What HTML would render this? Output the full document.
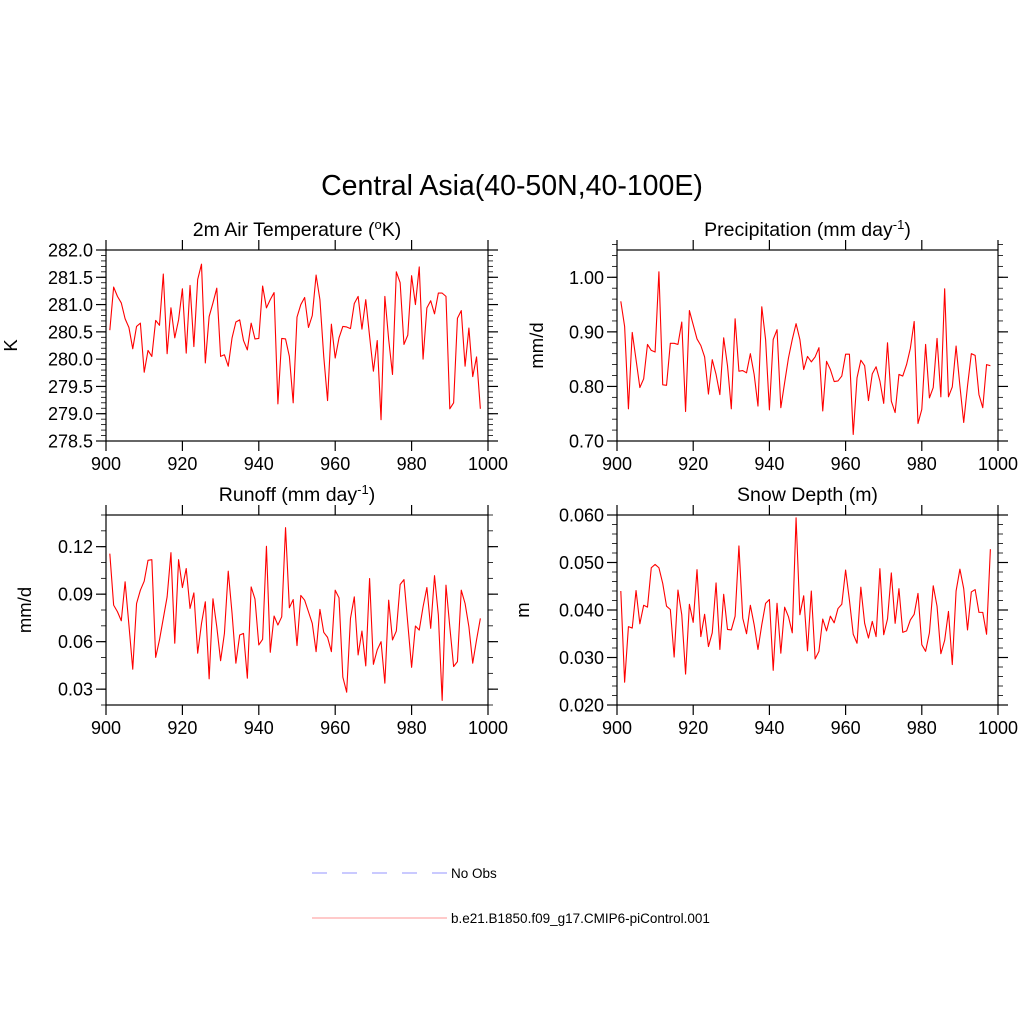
<!DOCTYPE html>
<html><head><meta charset="utf-8"><style>
html,body{margin:0;padding:0;background:#fff;}
svg{display:block;font-family:"Liberation Sans",sans-serif;}
</style></head><body>
<svg id="fig" width="1024" height="1024" viewBox="0 0 1024 1024">
<rect width="1024" height="1024" fill="#fff"/>
<text x="512" y="195" font-size="28.5" text-anchor="middle">Central Asia(40-50N,40-100E)</text>
<g>
<line x1="312" y1="873" x2="447" y2="873" stroke="#aaaaff" stroke-width="1.2" stroke-dasharray="15,15"/>
<text x="451" y="878" font-size="13.5">No Obs</text>
<line x1="312" y1="918" x2="447" y2="918" stroke="#ffaaaa" stroke-width="1.2"/>
<text x="451" y="923" font-size="13.5">b.e21.B1850.f09_g17.CMIP6-piControl.001</text>
</g>
</svg>
<script>
const years = Array.from({length:98},(_,i)=>901+i);
const tempVals=[280.53,281.32,281.15,281.03,280.74,280.58,280.19,280.60,280.66,279.76,280.16,280.05,280.71,280.62,281.56,280.10,280.94,280.39,280.72,281.29,280.11,281.35,280.23,281.46,281.74,279.93,280.78,281.03,281.30,280.05,280.08,279.87,280.39,280.68,280.72,280.34,280.17,280.66,280.37,280.38,281.34,280.94,281.09,281.22,279.18,280.38,280.37,280.05,279.20,280.77,281.00,281.13,280.58,280.80,281.54,281.09,280.05,279.24,280.64,280.02,280.39,280.60,280.59,280.56,281.02,281.15,280.55,281.09,280.42,279.78,280.34,278.89,281.15,280.36,279.72,281.60,281.40,280.27,280.44,281.53,281.00,281.69,280.00,280.94,281.07,280.83,281.21,281.21,281.15,279.09,279.20,280.75,280.89,279.87,280.57,279.68,280.04,279.09];
const precVals=[0.956,0.910,0.759,0.899,0.849,0.798,0.814,0.877,0.866,0.863,1.010,0.803,0.802,0.879,0.879,0.877,0.918,0.754,0.939,0.913,0.887,0.875,0.854,0.786,0.849,0.822,0.785,0.889,0.838,0.759,0.924,0.828,0.829,0.825,0.860,0.822,0.764,0.946,0.886,0.757,0.886,0.904,0.761,0.807,0.852,0.886,0.915,0.886,0.831,0.855,0.845,0.854,0.871,0.755,0.846,0.831,0.809,0.810,0.819,0.859,0.859,0.712,0.816,0.848,0.838,0.774,0.823,0.836,0.810,0.769,0.880,0.773,0.752,0.822,0.819,0.840,0.870,0.919,0.732,0.758,0.877,0.779,0.798,0.888,0.781,0.979,0.781,0.799,0.874,0.801,0.734,0.801,0.860,0.857,0.785,0.761,0.840,0.838];
const runoffVals=[0.1156,0.0831,0.0789,0.0732,0.0978,0.0705,0.0426,0.0841,0.0925,0.0982,0.1114,0.1118,0.0501,0.0611,0.0747,0.0883,0.1162,0.0590,0.1118,0.0942,0.1062,0.0810,0.0908,0.0527,0.0715,0.0852,0.0365,0.0871,0.0694,0.0480,0.0652,0.1045,0.0778,0.0464,0.0642,0.0652,0.0369,0.0946,0.0869,0.0579,0.0615,0.1202,0.0533,0.0762,0.0705,0.0757,0.1320,0.0814,0.0866,0.0575,0.0892,0.0862,0.0789,0.0715,0.0537,0.0804,0.0659,0.0627,0.0537,0.0925,0.0877,0.0376,0.0281,0.0747,0.0883,0.0516,0.0667,0.0447,0.0999,0.0457,0.0548,0.0600,0.0338,0.0862,0.0611,0.0667,0.0961,0.0992,0.0715,0.0438,0.0699,0.0673,0.0820,0.0942,0.0684,0.1017,0.0768,0.0229,0.0957,0.0694,0.0443,0.0474,0.0925,0.0841,0.0694,0.0464,0.0611,0.0747];
const snowVals=[0.0440,0.0248,0.0365,0.0362,0.0441,0.0371,0.0410,0.0406,0.0489,0.0496,0.0489,0.0456,0.0408,0.0401,0.0301,0.0442,0.0390,0.0265,0.0412,0.0374,0.0485,0.0344,0.0391,0.0323,0.0352,0.0457,0.0317,0.0433,0.0359,0.0358,0.0387,0.0535,0.0383,0.0350,0.0410,0.0369,0.0317,0.0369,0.0414,0.0422,0.0273,0.0414,0.0309,0.0406,0.0386,0.0352,0.0594,0.0390,0.0430,0.0314,0.0440,0.0297,0.0313,0.0381,0.0356,0.0387,0.0373,0.0403,0.0412,0.0484,0.0421,0.0349,0.0330,0.0448,0.0372,0.0341,0.0376,0.0344,0.0487,0.0348,0.0381,0.0478,0.0372,0.0445,0.0353,0.0356,0.0379,0.0391,0.0435,0.0327,0.0313,0.0352,0.0451,0.0408,0.0308,0.0336,0.0397,0.0285,0.0440,0.0486,0.0445,0.0358,0.0438,0.0443,0.0395,0.0395,0.0349,0.0528];
const xTicks=[900,920,940,960,980,1000];
const tempTicks=["278.5","279.0","279.5","280.0","280.5","281.0","281.5","282.0"];
const precTicks=["0.70","0.80","0.90","1.00"];
const runoffTicks=["0.03","0.06","0.09","0.12"];
const snowTicks=["0.020","0.030","0.040","0.050","0.060"];

const NS="http://www.w3.org/2000/svg";
const svg=document.getElementById('fig');
function mk(tag,attrs,parent){const e=document.createElementNS(NS,tag);for(const k in attrs)e.setAttribute(k,attrs[k]);(parent||svg).appendChild(e);return e;}

const panels=[
 {id:'temp',x0:106,x1:488,y0:250,y1:441,ymin:278.5,ymax:282.0,minor:0.1,ticks:tempTicks,vals:tempVals,ylab:'K',ylx:17,ttl:['2m Air Temperature (','o','K)']},
 {id:'precip',x0:617,x1:998,y0:250,y1:441,ymin:0.70,ymax:1.05,minor:0.02,ticks:precTicks,vals:precVals,ylab:'mm/d',ylx:543,ttl:['Precipitation (mm day','-1',')']},
 {id:'runoff',x0:106,x1:488,y0:515,y1:705,ymin:0.02,ymax:0.14,minor:0.01,ticks:runoffTicks,vals:runoffVals,ylab:'mm/d',ylx:31,ttl:['Runoff (mm day','-1',')']},
 {id:'snow',x0:617,x1:998,y0:515,y1:705,ymin:0.02,ymax:0.06,minor:0.002,ticks:snowTicks,vals:snowVals,ylab:'m',ylx:529,ttl:['Snow Depth (m)','','']}
];

panels.forEach(p=>{
 const g=mk('g',{});
 
 
 const xs=v=>p.x0+(v-900)/100*(p.x1-p.x0);
 const ys=v=>p.y1-(v-p.ymin)/(p.ymax-p.ymin)*(p.y1-p.y0);
 const t=mk('text',{x:(p.x0+p.x1)/2,y:p.y0-14,'font-size':19.5,'text-anchor':'middle'},g);
 
 
 t.appendChild(document.createTextNode(p.ttl[0]));
 if(p.ttl[1]){const s=mk('tspan',{dy:-7,'font-size':13},t);s.textContent=p.ttl[1];const s2=mk('tspan',{dy:7},t);s2.textContent=p.ttl[2];}
 const fr=mk('rect',{x:p.x0,y:p.y0,width:p.x1-p.x0,height:p.y1-p.y0,fill:'none',stroke:'#000','stroke-width':1.2},g);
 
 
 xTicks.forEach(v=>{
  const x=xs(v);
  mk('line',{x1:x,y1:p.y1,x2:x,y2:p.y1+10,stroke:'#000','stroke-width':1.2},g);
  mk('line',{x1:x,y1:p.y0,x2:x,y2:p.y0-10,stroke:'#000','stroke-width':1.2},g);
  const l=mk('text',{x:x,y:p.y1+29,'font-size':18,'text-anchor':'middle'},g);
  
  
  l.textContent=v;
 });
 const n=Math.round((p.ymax-p.ymin)/p.minor);
 for(let i=0;i<=n;i++){const y=ys(p.ymin+i*p.minor);
  mk('line',{x1:p.x0,y1:y,x2:p.x0-5,y2:y,stroke:'#000','stroke-width':0.8},g);
  mk('line',{x1:p.x1,y1:y,x2:p.x1+5,y2:y,stroke:'#000','stroke-width':0.8},g);}
 p.ticks.forEach(s=>{
  const y=ys(parseFloat(s));
  mk('line',{x1:p.x0,y1:y,x2:p.x0-10,y2:y,stroke:'#000','stroke-width':1.2},g);
  mk('line',{x1:p.x1,y1:y,x2:p.x1+10,y2:y,stroke:'#000','stroke-width':1.2},g);
  const l=mk('text',{x:p.x0-13,y:y+6.5,'font-size':18,'text-anchor':'end'},g);
  
  
  l.textContent=s;
 });
 const cy=(p.y0+p.y1)/2;
 const yl=mk('text',{x:0,y:0,'font-size':18.5,'text-anchor':'middle',transform:`translate(${p.ylx},${cy}) rotate(-90)`},g);
 
 
 yl.textContent=p.ylab;
 const pts=p.vals.map((v,i)=>xs(years[i]).toFixed(2)+','+ys(v).toFixed(2)).join(' ');
 const pl=mk('polyline',{points:pts,fill:'none',stroke:'#ff0000','stroke-width':1.1,'stroke-linejoin':'round'},g);
 
 
});
</script>
</body></html>
